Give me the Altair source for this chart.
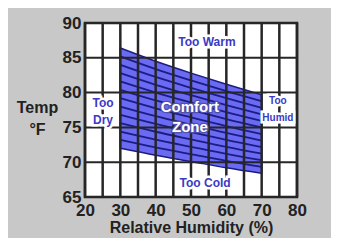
import altair as alt
import pandas as pd

# Comfort-zone boundary (relative humidity % vs temperature °F)
humidity = [30, 40, 50, 60, 70]
temp_top = [86.4, 84.5, 82.8, 81.2, 79.7]
temp_bottom = [72.0, 71.0, 70.1, 69.2, 68.4]

# Region labels
blue_labels = ["Too Warm", "Too Cold", "Too\nDry"]
blue_x = [54.5, 54.0, 25.1]
blue_y = [87.2, 67.0, 78.5]

humid_label = ["Too\nHumid"]
humid_x = [74.6]
humid_y = [78.8]

zone_label = ["Comfort\nZone"]
zone_x = [49.7]
zone_y = [78.0]

x_ticks = list(range(20, 81, 5))
y_ticks = list(range(65, 91, 5))
hatch_count = 12

FONT = "Liberation Sans"

zone = pd.DataFrame({"rh": humidity, "top": temp_top, "bottom": temp_bottom})
rows = []
for k in range(1, hatch_count):
    f = k / hatch_count
    for h, t, b in zip(humidity, temp_top, temp_bottom):
        rows.append({"rh": h, "t": b + f * (t - b), "k": k})
hatch = pd.DataFrame(rows)

blue_df = pd.DataFrame({"rh": blue_x, "t": blue_y, "txt": blue_labels})
humid_df = pd.DataFrame({"rh": humid_x, "t": humid_y, "txt": humid_label})
zone_df = pd.DataFrame({"rh": zone_x, "t": zone_y, "txt": zone_label})
vgrid = pd.DataFrame({"rh": x_ticks})
hgrid = pd.DataFrame({"t": y_ticks})

x_scale = alt.Scale(domain=[20, 80], nice=False, zero=False)
y_scale = alt.Scale(domain=[65, 90], nice=False, zero=False)

x_axis = alt.Axis(
    values=list(range(20, 81, 10)),
    grid=False, ticks=False, domain=False,
    labelFont=FONT, labelFontSize=17, labelFontWeight="bold", labelColor="#222222",
    labelPadding=5, labelFlush=False, labelOverlap=False, labelBound=False,
    title="Relative Humidity (%)", titleFont=FONT, titleFontSize=16,
    titleFontWeight="bold", titleColor="#222222", titlePadding=1,
)
y_axis = alt.Axis(
    values=y_ticks,
    grid=False, ticks=False, domain=False,
    labelFont=FONT, labelFontSize=17, labelFontWeight="bold", labelColor="#222222",
    labelPadding=4, labelFlush=False, labelOverlap=False, labelBound=False,
    title=["Temp", "°F"], titleFont=FONT, titleFontSize=16, titleFontWeight="bold",
    titleColor="#222222", titleAngle=0, titleAlign="center", titleBaseline="alphabetic",
    titleX=-48, titleY=89, titleLineHeight=22,
)


def X(field="rh"):
    return alt.X(f"{field}:Q", scale=x_scale, axis=x_axis)


def Y(field):
    return alt.Y(f"{field}:Q", scale=y_scale, axis=y_axis)


area = alt.Chart(zone).mark_area(
    color="#6a6af2", opacity=1, stroke="#1c1c80", strokeWidth=1.5, interpolate="monotone"
).encode(x=X(), y=Y("top"), y2="bottom:Q")

stripes = alt.Chart(hatch).mark_line(
    color="#1c1c86", strokeWidth=1.8, interpolate="monotone"
).encode(x=X(), y=Y("t"), detail="k:N")

vlines = alt.Chart(vgrid).mark_rule(color="#262626", strokeWidth=2.5).encode(x=X())
hlines = alt.Chart(hgrid).mark_rule(color="#262626", strokeWidth=2).encode(y=Y("t"))


def label_layers(df, size, color, line_height, halo):
    halo_layer = alt.Chart(df).mark_text(
        font=FONT, fontSize=size, fontWeight="bold", color=halo, stroke=halo,
        strokeWidth=5, lineBreak="\n", lineHeight=line_height
    ).encode(x=X(), y=Y("t"), text="txt:N")
    text_layer = alt.Chart(df).mark_text(
        font=FONT, fontSize=size, fontWeight="bold", color=color,
        lineBreak="\n", lineHeight=line_height
    ).encode(x=X(), y=Y("t"), text="txt:N")
    return [halo_layer, text_layer]


blue_layers = label_layers(blue_df, 12, "#3a3ac4", 17, "white")
humid_layers = label_layers(humid_df, 10, "#3a3ac4", 17, "white")

zone_outline = alt.Chart(zone_df).mark_text(
    font=FONT, fontSize=15, fontWeight="bold", color="white", stroke="#5050a8",
    strokeWidth=2.5, lineBreak="\n", lineHeight=20
).encode(x=X(), y=Y("t"), text="txt:N")

zone_text = alt.Chart(zone_df).mark_text(
    font=FONT, fontSize=15, fontWeight="bold", color="white", lineBreak="\n", lineHeight=20
).encode(x=X(), y=Y("t"), text="txt:N")

chart = alt.layer(
    area, stripes, vlines, hlines, *blue_layers, *humid_layers, zone_outline, zone_text
).properties(
    width=212, height=174,
    autosize=alt.AutoSizeParams(type="none"),
    padding={"left": 77, "top": 15, "right": 34, "bottom": 41},
    background="#c8c8c8",
).configure_view(stroke="#1a1a1a", strokeWidth=2.5, fill="white")

chart.save("out.html", embed_options={"renderer": "svg", "actions": False})
